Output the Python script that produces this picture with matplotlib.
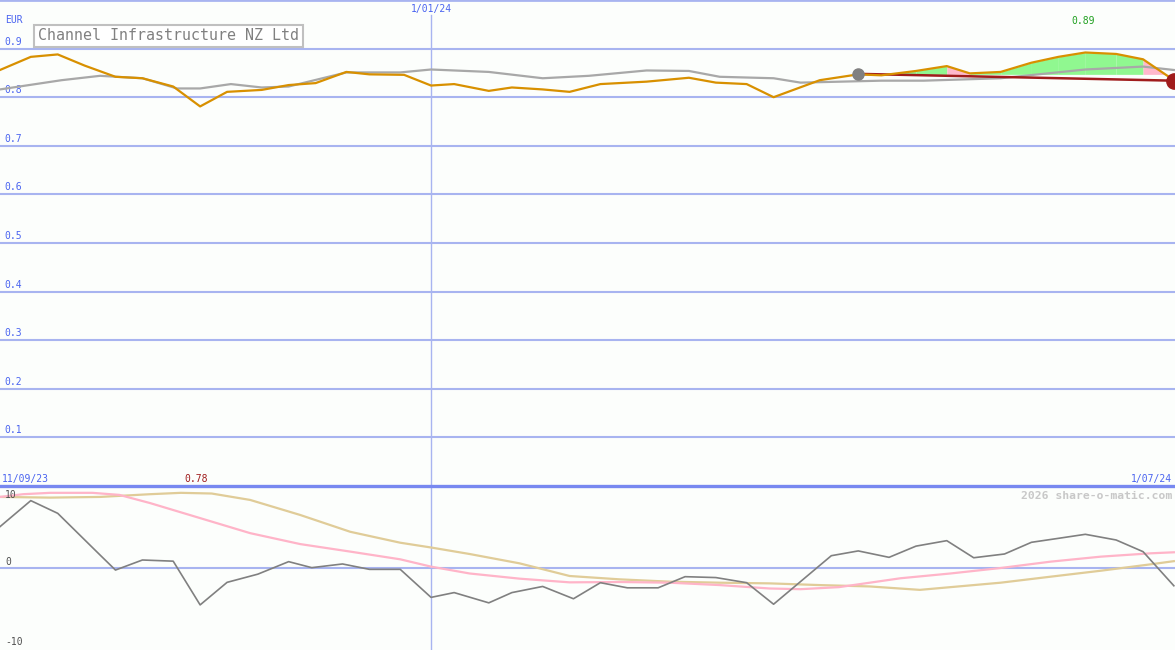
import matplotlib

matplotlib.use("Agg")
import matplotlib.pyplot as plt

# x values are days since 11/09/23
price_days = [0, 8, 15, 22, 30, 37, 45, 52, 59, 68, 75, 82, 90, 96, 105, 112, 118, 127,
              133, 141, 148, 156, 168, 179, 186, 194, 201, 213, 223,
              229, 238, 246, 252, 260, 268, 275, 282, 290, 297, 305]
price = [0.856, 0.883, 0.888, 0.865, 0.842, 0.839, 0.822, 0.781, 0.811, 0.815, 0.825,
         0.829, 0.852, 0.847, 0.846, 0.824, 0.827, 0.813, 0.820, 0.816, 0.811, 0.827,
         0.832, 0.840, 0.830, 0.827, 0.800, 0.835, 0.847,
         0.845, 0.854, 0.864, 0.849, 0.852, 0.871, 0.883, 0.892, 0.889, 0.878, 0.835]

ma_days = [0, 16, 26, 37, 46, 52, 60, 68, 75, 90, 104, 112, 127, 141, 153, 168, 179,
           187, 201, 208, 229, 240, 260, 282, 297, 305]
ma = [0.816, 0.835, 0.844, 0.839, 0.818, 0.818, 0.827, 0.820, 0.822, 0.851, 0.851,
      0.857, 0.852, 0.839, 0.844, 0.855, 0.854, 0.842, 0.839, 0.830, 0.834, 0.834,
      0.839, 0.857, 0.863, 0.856]

trend_days = [223, 305]
trend = [0.848, 0.834]

forecast_start = 28  # index in price where the projection begins
base_level = 0.847
fill_up = [True, True, True, False, True, True, True, True, True, True, False]

osc_days = [0, 8, 15, 26, 30, 37, 45, 52, 59, 67, 75, 81, 89, 96, 104, 112, 118, 127,
            133, 141, 149, 156, 163, 171, 178, 186, 194, 201, 216, 223, 231, 238, 246,
            253, 261, 268, 275, 282, 290, 297, 305]
osc = [6.05, 9.86, 8.0, 1.9, -0.3, 1.17, 1.0, -5.4, -2.1, -0.9, 0.93, 0.05, 0.59, -0.2,
       -0.2, -4.3, -3.6, -5.1, -3.6, -2.7, -4.5, -2.15, -2.9, -2.9, -1.27, -1.4, -2.15,
       -5.3, 1.8, 2.5, 1.56, 3.2, 4.0, 1.5, 2.05, 3.76, 4.34, 4.93, 4.1, 2.39, -2.6]

sig_days = [0, 6, 13, 24, 31, 39, 52, 65, 78, 91, 104, 112, 122, 135, 148, 161, 174,
            187, 200, 208, 218, 234, 247, 260, 273, 286, 299, 305]
sig = [10.4, 10.8, 11.0, 11.0, 10.7, 9.5, 7.3, 5.1, 3.5, 2.4, 1.27, 0.2, -0.8, -1.56,
       -2.1, -2.05, -2.15, -2.5, -3.0, -3.1, -2.8, -1.5, -0.8, 0.0, 0.93, 1.66, 2.15, 2.3]

slow_days = [0, 13, 26, 39, 47, 55, 65, 78, 91, 104, 112, 122, 135, 148, 161, 174, 187,
             200, 213, 226, 239, 247, 260, 273, 286, 299, 305]
slow = [10.4, 10.3, 10.4, 10.8, 11.0, 10.9, 9.96, 7.76, 5.3, 3.7, 3.0, 2.05, 0.68,
        -1.17, -1.66, -2.0, -2.15, -2.25, -2.5, -2.7, -3.2, -2.8, -2.15, -1.27, -0.4,
        0.54, 1.0]

price_ticks = [0.1, 0.2, 0.3, 0.4, 0.5, 0.6, 0.7, 0.8, 0.9]
osc_ticks = [10, 0, -10]
year_mark = 112
x_end = 305.3

BG = "#fcfefc"
GRID = "#a8b4f0"
BLUE_TXT = "#4a64f0"
MONO = "DejaVu Sans Mono"

W, H = 1175, 650
fig = plt.figure(figsize=(W / 100, H / 100), dpi=100, facecolor=BG)
top = fig.add_axes([0, 164 / H, 1, 486 / H])
bot = fig.add_axes([0, 0, 1, 164 / H])

for ax in (top, bot):
    ax.set_facecolor(BG)
    ax.set_xlim(0, x_end)
    ax.set_xticks([])
    ax.set_yticks([])
    for s in ax.spines.values():
        s.set_visible(False)

# top panel
top.set_ylim(0, 1.0)
for v in price_ticks:
    top.axhline(v, color=GRID, lw=1.5, zorder=1)
    top.text(0.004, v + 0.004, f"{v:.1f}", transform=top.get_yaxis_transform(),
             color=BLUE_TXT, fontsize=7, family=MONO, va="bottom", ha="left")
top.axhline(1.0, color=GRID, lw=2, clip_on=False)
top.axvline(year_mark, ymax=0.969, color=GRID, lw=1)

fd = price_days[forecast_start:]
fp = price[forecast_start:]
for i, up in enumerate(fill_up):
    top.fill_between(fd[i:i + 2], fp[i:i + 2], base_level,
                     color="#90f890" if up else "#ffb8cc", lw=0, zorder=2)

top.plot(ma_days, ma, color="#a8a8a8", lw=1.6, zorder=3)
top.plot(trend_days, trend, color="#a01c1c", lw=1.8, zorder=4)
top.plot(price_days, price, color="#d89000", lw=1.6, zorder=5)
top.plot(trend_days[0], trend[0], "o", color="#808080", ms=8, zorder=6)
top.plot(trend_days[-1], trend[-1], "o", color="#a01c1c", ms=11, zorder=6)

# bottom panel
bot.set_ylim(-12, 12)
bot.axhline(0, color=GRID, lw=1.5, zorder=1)
bot.axhline(12, color="#7888f0", lw=2.4, clip_on=False, zorder=6)
bot.axvline(year_mark, color=GRID, lw=1)
bot.plot(slow_days, slow, color="#e0cc98", lw=1.6, zorder=2)
bot.plot(sig_days, sig, color="#ffb4c8", lw=1.6, zorder=3)
bot.plot(osc_days, osc, color="#808080", lw=1.2, zorder=4)


def ftext(x, y, s, **kw):
    fig.text(x / W, 1 - y / H, s, family=MONO, **kw)


ftext(5, 20, "EUR", color=BLUE_TXT, fontsize=7, va="center")
ftext(431, 9, "1/01/24", color=BLUE_TXT, fontsize=7, va="center", ha="center")
ftext(2, 479, "11/09/23", color=BLUE_TXT, fontsize=7, va="center")
ftext(1172, 479, "1/07/24", color=BLUE_TXT, fontsize=7, va="center", ha="right")
ftext(196, 479, f"{min(price):.2f}", color="#a01c1c", fontsize=7, va="center", ha="center")
ftext(1083, 21, f"{max(price):.2f}", color="#20a020", fontsize=7, va="center", ha="center")
ftext(1172, 496, "2026 share-o-matic.com", color="#c8c8c8", fontsize=8.2,
      fontweight="bold", va="center", ha="right")
for v, y in zip(osc_ticks, [495, 562, 642]):
    ftext(5, y, str(v), color="#505050", fontsize=7, va="center")
ftext(38, 36, "Channel Infrastructure NZ Ltd", color="#808080", fontsize=10.8,
      va="center", bbox=dict(boxstyle="square,pad=0.25", fc="white", ec="#c0c0c0", lw=1.5))

fig.savefig("out.png", dpi=100, facecolor=BG)
